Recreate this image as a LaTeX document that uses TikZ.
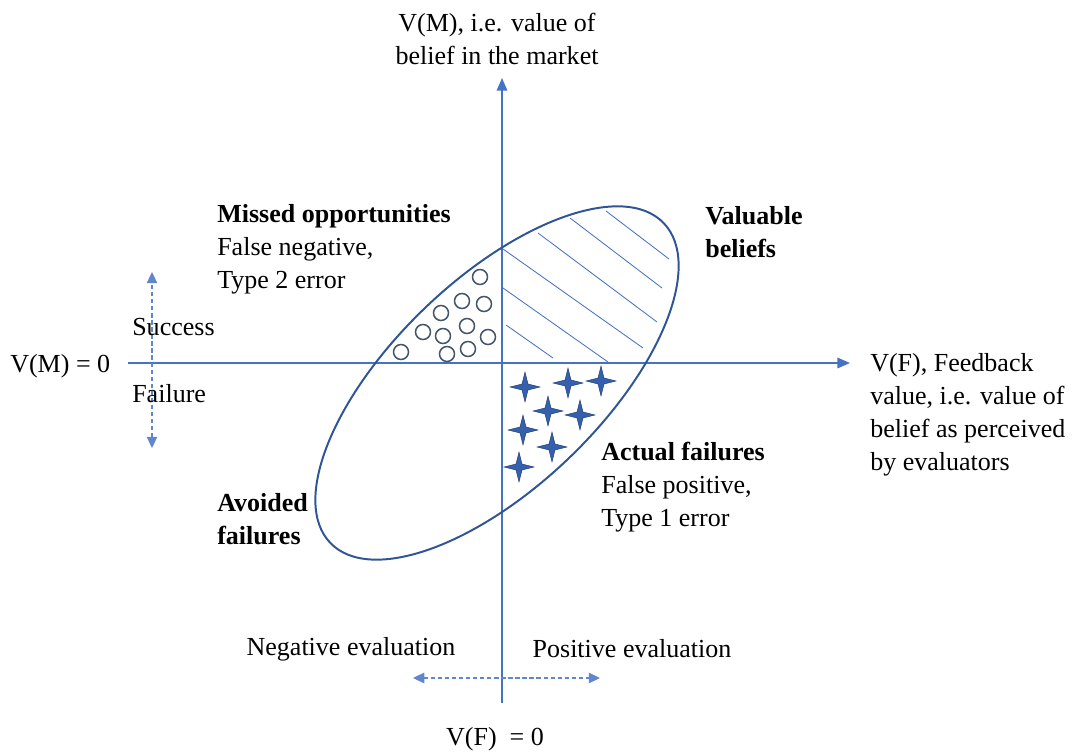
\documentclass[tikz,border=0pt]{standalone}
\usepackage{fontspec}
\setmainfont{Liberation Serif}
\usetikzlibrary{arrows.meta}

\definecolor{axisblue}{HTML}{4472C4}
\definecolor{ellblue}{HTML}{2F5597}
\definecolor{ringgray}{HTML}{44546A}
\definecolor{starblue}{HTML}{3560AE}

\tikzset{
  axis/.style={draw=axisblue, line width=1pt, -{Triangle[length=9pt,width=7.5pt]}},
  hint/.style={draw=axisblue!85, line width=0.8pt, densely dashed,
    {Triangle[length=8pt,width=7.5pt]}-{Triangle[length=8pt,width=7.5pt]}},
  hatch/.style={draw=axisblue, line width=0.6pt},
  ring/.style={draw=ringgray, line width=1.1pt},
  spark/.style={fill=starblue, draw=ellblue!70!black, line width=0.3pt},
  lbl/.style={font=\fontsize{18.5}{23.5}\selectfont, inner sep=0pt, align=left},
}

\begin{document}
\begin{tikzpicture}[x=0.025cm, y=-0.025cm]

  \useasboundingbox (0,0) rectangle (1073,754);

  %%%%%%%%%%%%%%%%%%%%%%%%%%%%%%%%%%%%%%%%%%%%%%%%%
  % Axes
  \coordinate (vbot) at (502,703);
  \coordinate (vtop) at (502,78);
  \coordinate (hleft) at (128,363);
  \coordinate (hright) at (850,363);
  \draw[axis] (vbot) -- (vtop);
  \draw[axis] (hleft) -- (hright);

  % Ellipse of beliefs
  \draw[draw=ellblue, line width=1.4pt, rotate around={43.8:(497,383)}]
      (497,383) ellipse [x radius=231, y radius=104];

  % Hatching of valuable beliefs
  \foreach \ax/\ay/\bx/\by in {606/211/669/259, 570/218/662/288, 538/233/657/322,
      503/249/643/348, 503/288/608/362, 506/325/553/358}
    \draw[hatch] (\ax,\ay) -- (\bx,\by);

  % Missed opportunities
  \foreach \cx/\cy in {480/277, 462/301, 484/304, 441/313, 467/326, 423/332,
      443/336, 488/337, 401/352, 447/354, 468/349}
    \draw[ring] (\cx,\cy) circle [radius=7.5];

  % Actual failures
  \foreach \sx/\sy in {525/387, 568/383, 601/381, 548/411, 580/415,
      523/430, 552/447, 519/467}
    \filldraw[spark, shift={(\sx,\sy)}]
      (0,-15) -- (3,-3) -- (15,0) -- (3,3) -- (0,15)
      -- (-3,3) -- (-15,0) -- (-3,-3) -- cycle;

  %%%%%%%%%%%%%%%%%%%%%%%%%%%%%%%%%%%%%%%%%%%%%%%%%
  % Evaluation hints
  \coordinate (up) at (152,272);
  \coordinate (down) at (152,448);
  \coordinate (negend) at (413,678);
  \coordinate (posend) at (600,678);
  \draw[hint] (down) -- (up);
  \draw[hint] (negend) -- (posend);

  % Labels
  \node[lbl, align=center] (vmlabel) at (497,39) {V(M), i.e. value of\\belief in the market};
  \node[lbl, anchor=west] (vfzero) at (870,415) {V(F), Feedback\\value, i.e. value of\\belief as perceived\\by evaluators};
  \node[lbl, anchor=west] (vmzero) at (10,366) {V(M) = 0};
  \node[lbl, anchor=west] (success) at (132,327) {Success};
  \node[lbl, anchor=west] (failure) at (132,394) {Failure};
  \node[lbl, anchor=west] (missed) at (217,249) {\textbf{Missed opportunities}\\False negative,\\Type 2 error};
  \node[lbl, anchor=west] (valuable) at (705,232) {\textbf{Valuable}\\\textbf{beliefs}};
  \node[lbl, anchor=west] (actual) at (601,487) {\textbf{Actual failures}\\False positive,\\Type 1 error};
  \node[lbl, anchor=west] (avoided) at (217,519) {\textbf{Avoided}\\\textbf{failures}};
  \node[lbl] (negeval) at (351,649) {Negative evaluation};
  \node[lbl] (poseval) at (632,649) {Positive evaluation};
  \node[lbl] (vfnull) at (495,739) {V(F) \ = 0};

\end{tikzpicture}
\end{document}
